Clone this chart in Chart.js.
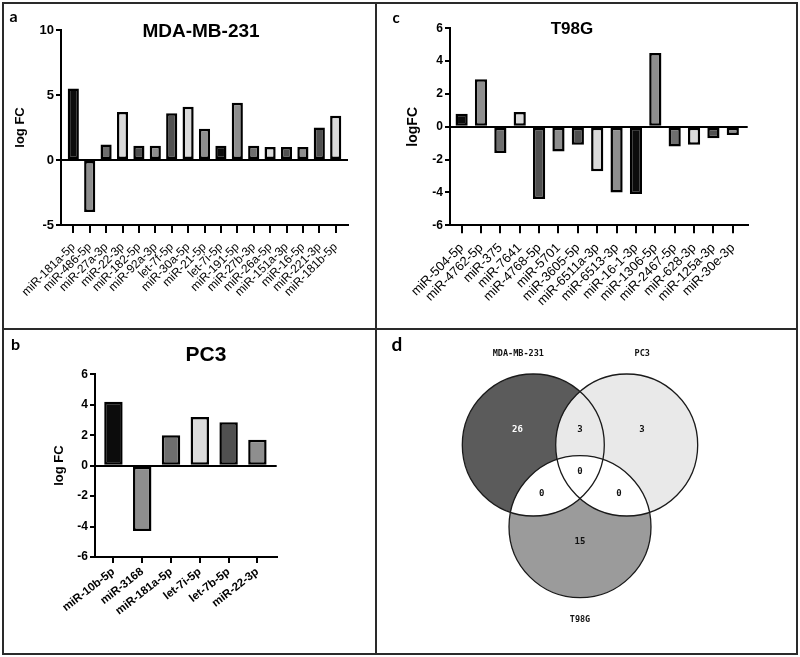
<!DOCTYPE html>
<html><head><meta charset="utf-8">
<script src="https://cdn.jsdelivr.net/npm/chart.js@4.4.1/dist/chart.umd.min.js"></script>
<style>
body{margin:0;background:#fff;}
#wrap{position:relative;width:800px;height:657px;overflow:hidden;background:#fff;font-family:"Liberation Sans",Arial,sans-serif;}
.cv{position:absolute;}
.ln{position:absolute;background:#2a2a2a;z-index:5;}
.lbl{position:absolute;font-weight:bold;color:#000;white-space:nowrap;transform:translate(-50%,-50%);line-height:1;}
.let{font-family:Lato,"Open Sans",sans-serif;}
</style></head>
<body><div id="wrap">
<canvas id="ca" class="cv" width="376" height="329" style="left:0;top:0"></canvas>
<canvas id="cc" class="cv" width="420" height="329" style="left:378px;top:0"></canvas>
<canvas id="cb" class="cv" width="376" height="328" style="left:0;top:329px"></canvas>
<canvas id="cd" class="cv" width="420" height="328" style="left:378px;top:329px"></canvas>
<div class="ln" style="left:2px;top:2px;width:796px;height:2px"></div>
<div class="ln" style="left:2px;top:653px;width:796px;height:2px"></div>
<div class="ln" style="left:2px;top:2px;width:2px;height:653px"></div>
<div class="ln" style="left:796px;top:2px;width:2px;height:653px"></div>
<div class="ln" style="left:375px;top:2px;width:2px;height:653px"></div>
<div class="ln" style="left:2px;top:328px;width:796px;height:2px"></div>
<div class="lbl let" style="left:13.5px;top:16px;font-size:16px">a</div>
<div class="lbl let" style="left:396px;top:17px;font-size:15px">c</div>
<div class="lbl let" style="left:15.5px;top:344px;font-size:16px">b</div>
<div class="lbl let" style="left:397px;top:343px;font-size:19px">d</div>
<div class="lbl" style="left:201px;top:30px;font-size:19px">MDA-MB-231</div>
<div class="lbl" style="left:572px;top:28px;font-size:17px">T98G</div>
<div class="lbl" style="left:206px;top:353px;font-size:21px">PC3</div>
</div>
<script>
// ---- data ----
const mdaLabels = ['miR-181a-5p','miR-486-5p','miR-27a-3p','miR-22-3p','miR-182-5p','miR-92a-3p','let-7f-5p','miR-30a-5p','miR-21-5p','let-7i-5p','miR-191-5p','miR-27b-3p','miR-26a-5p','miR-151a-3p','miR-16-5p','miR-221-3p','miR-181b-5p'];
const mdaLogFC = [5.5, -4.0, 1.2, 3.7, 1.1, 1.1, 3.6, 4.1, 2.4, 1.1, 4.4, 1.1, 1.0, 1.0, 1.0, 2.5, 3.4];
const mdaTicks = [-5, 0, 5, 10];

const t98gLabels = ['miR-504-5p','miR-4762-5p','miR-375','miR-7641','miR-4768-5p','miR-5701','miR-3605-5p','miR-6511a-3p','miR-6513-3p','miR-16-1-3p','miR-1306-5p','miR-2467-5p','miR-628-3p','miR-125a-3p','miR-30e-3p'];
const t98gLogFC = [0.8, 2.9, -1.6, 0.9, -4.4, -1.5, -1.1, -2.7, -4.0, -4.1, 4.5, -1.2, -1.1, -0.7, -0.5];
const t98gTicks = [-6, -4, -2, 0, 2, 4, 6];

const pc3Labels = ['miR-10b-5p','miR-3168','miR-181a-5p','let-7i-5p','let-7b-5p','miR-22-3p'];
const pc3LogFC = [4.2, -4.3, 2.0, 3.2, 2.85, 1.7];
const pc3Ticks = [-6, -4, -2, 0, 2, 4, 6];

const vennSets = ['MDA-MB-231', 'PC3', 'T98G'];
const vennRegions = ['MDA-MB-231 only', 'PC3 only', 'T98G only', 'MDA-MB-231 & PC3', 'MDA-MB-231 & T98G', 'PC3 & T98G', 'all three'];
const vennCounts = [26, 3, 15, 3, 0, 0, 0];

// ---- styles ----
const barPalette = ['#0c0c0c','#8e8e8e','#6e6e6e','#dadada','#505050','#8e8e8e','#505050','#dadada','#8e8e8e','#0c0c0c','#8e8e8e','#6e6e6e','#dadada','#505050','#8e8e8e','#505050','#dadada'];
const FONT = '"Liberation Sans", Arial, sans-serif';

function barChart(id, labels, values, ticks, o) {
  new Chart(document.getElementById(id), {
    type: 'bar',
    data: {
      labels: labels.map((_, i) => i),
      datasets: [{
        data: values,
        backgroundColor: labels.map((_, i) => barPalette[i % barPalette.length]),
        borderColor: '#000',
        borderWidth: 2.5,
        borderSkipped: false,
        categoryPercentage: 1,
        barPercentage: o.barPct
      }]
    },
    options: {
      responsive: false,
      animation: false,
      devicePixelRatio: 1,
      layout: { autoPadding: false, padding: { top: o.top, right: o.right, left: 0, bottom: 0 } },
      plugins: { legend: { display: false }, tooltip: { enabled: false } },
      scales: {
        x: {
          type: 'linear',
          offset: false,
          min: o.xmin, max: o.xmax,
          afterBuildTicks: s => { s.ticks = labels.map((_, i) => ({ value: i })); },
          afterFit: s => { s.height = o.xHeight; },
          ticks: {
            autoSkip: false, maxRotation: o.rot, minRotation: o.rot,
            callback: v => labels[v],
            color: '#000', padding: o.xPad,
            font: { family: FONT, size: o.xFont, weight: o.xWeight }
          },
          grid: { offset: false, drawOnChartArea: false, drawTicks: true, tickLength: o.xTick, lineWidth: 2, color: '#000' },
          border: { display: true, color: '#000', width: 2 }
        },
        y: {
          min: ticks[0], max: ticks[ticks.length - 1],
          afterBuildTicks: s => { s.ticks = ticks.map(v => ({ value: v })); },
          afterFit: s => { s.width = o.yWidth; },
          ticks: { color: '#000', padding: 2, font: { family: FONT, size: o.yFont, weight: 'bold' } },
          title: { display: true, text: o.yTitle, color: '#000', padding: { top: o.titlePad, bottom: 0 },
                   font: { family: FONT, size: o.titleFont, weight: 'bold' } },
          grid: {
            drawOnChartArea: true, drawTicks: true, tickLength: 5, lineWidth: 2,
            color: c => (c.tick && c.tick.value === 0) ? '#000' : 'rgba(0,0,0,0)',
            tickColor: '#000'
          },
          border: { display: true, color: '#000', width: 2 }
        }
      }
    }
  });
}

barChart('ca', mdaLabels, mdaLogFC, mdaTicks, {
  top: 30, right: 28, yWidth: 61, xHeight: 104, xmin: -0.75, xmax: 16.75, barPct: 0.68,
  xFont: 12, xWeight: 'normal', xPad: 7, xTick: 8, rot: 45, yFont: 13, yTitle: 'log FC', titleFont: 13, titlePad: 13
});
barChart('cc', t98gLabels, t98gLogFC, t98gTicks, {
  top: 28.3, right: 50.3, yWidth: 72, xHeight: 103.7, xmin: -0.6, xmax: 14.77, barPct: 0.63,
  xFont: 13, xWeight: 'normal', xPad: 7, xTick: 8, rot: 45, yFont: 12, yTitle: 'logFC', titleFont: 14, titlePad: 26.6
});
barChart('cb', pc3Labels, pc3LogFC, pc3Ticks, {
  top: 45.3, right: 99.3, yWidth: 95, xHeight: 100, xmin: -0.64, xmax: 5.67, barPct: 0.64,
  xFont: 11.5, xWeight: 'bold', xPad: 2, xTick: 6, rot: 38, yFont: 12, yTitle: 'log FC', titleFont: 13, titlePad: 52
});

// ---- Venn diagram (panel d) ----
const vennLayout = {
  circles: [ { cx: 155.3, cy: 116, r: 71 }, { cx: 248.7, cy: 116, r: 71 }, { cx: 202, cy: 197.7, r: 71 } ],
  fills: ['#5b5b5b', '#e9e9e9', '#9b9b9b'],
  nameAnchors: [[140.3, 24.5], [264.3, 24.5], [202, 291]],
  countAnchors: [[139.5, 101], [264, 101], [202, 212.5], [202, 101], [163.7, 165], [241, 165], [202, 143]],
  countColors: ['#ffffff', '#111', '#111', '#111', '#111', '#111', '#111']
};
const vennPlugin = {
  id: 'venn',
  beforeDatasetsDraw(chart) {
    const { ctx, scales: { x, y } } = chart;
    const circ = vennLayout.circles.map(c => ({
      px: x.getPixelForValue(c.cx), py: y.getPixelForValue(c.cy),
      r: x.getPixelForValue(c.cx + c.r) - x.getPixelForValue(c.cx)
    }));
    const path = c => { ctx.beginPath(); ctx.arc(c.px, c.py, c.r, 0, Math.PI * 2); };
    ctx.save();
    circ.forEach((c, i) => { path(c); ctx.fillStyle = vennLayout.fills[i]; ctx.fill(); });
    ctx.save(); path(circ[2]); ctx.clip();
    ctx.fillStyle = '#ffffff'; path(circ[0]); ctx.fill(); path(circ[1]); ctx.fill();
    ctx.restore();
    ctx.strokeStyle = '#1a1a1a'; ctx.lineWidth = 1.3;
    circ.forEach(c => { path(c); ctx.stroke(); });
    ctx.font = 'bold 8.5px "DejaVu Sans Mono", monospace';
    ctx.textAlign = 'center'; ctx.textBaseline = 'middle'; ctx.fillStyle = '#111';
    vennSets.forEach((s, i) => {
      const a = vennLayout.nameAnchors[i];
      ctx.fillText(s, x.getPixelForValue(a[0]), y.getPixelForValue(a[1]));
    });
    ctx.restore();
  },
  afterDatasetsDraw(chart) {
    const { ctx } = chart;
    const meta = chart.getDatasetMeta(0);
    ctx.save();
    ctx.font = 'bold 9px "DejaVu Sans Mono", monospace';
    ctx.textAlign = 'center'; ctx.textBaseline = 'middle';
    meta.data.forEach((p, i) => {
      ctx.fillStyle = vennLayout.countColors[i];
      ctx.fillText(String(vennCounts[i]), p.x, p.y);
    });
    ctx.restore();
  }
};
new Chart(document.getElementById('cd'), {
  type: 'scatter',
  data: {
    datasets: [{
      label: 'overlap',
      data: vennCounts.map((c, i) => ({ x: vennLayout.countAnchors[i][0], y: vennLayout.countAnchors[i][1], region: vennRegions[i] })),
      pointRadius: 0
    }]
  },
  options: {
    responsive: false, animation: false, devicePixelRatio: 1,
    layout: { autoPadding: false, padding: 0 },
    plugins: { legend: { display: false }, tooltip: { enabled: false } },
    scales: {
      x: { type: 'linear', min: 0, max: 420, display: false },
      y: { type: 'linear', min: 0, max: 328, reverse: true, display: false }
    }
  },
  plugins: [vennPlugin]
});
</script>
</body></html>
